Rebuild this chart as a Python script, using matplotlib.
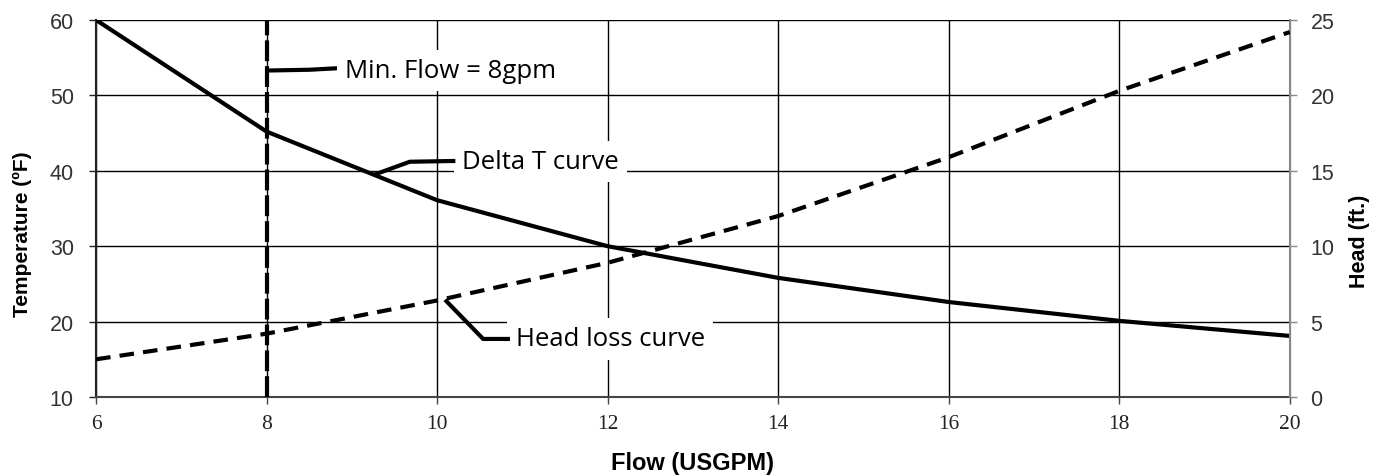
import matplotlib
matplotlib.use("Agg")
import matplotlib.pyplot as plt

flow = [6, 8, 10, 12, 14, 16, 18, 20]
delta_t = [60, 45.2, 36.1, 30.0, 25.8, 22.6, 20.1, 18.1]
head = [2.5, 4.2, 6.4, 8.9, 12.0, 15.9, 20.3, 24.2]
x_ticks = [6, 8, 10, 12, 14, 16, 18, 20]
temp_ticks = [10, 20, 30, 40, 50, 60]
head_ticks = [0, 5, 10, 15, 20, 25]
min_flow = 8

fig = plt.figure(figsize=(13.88, 4.77), dpi=100)
ax = fig.add_axes([0.0692, 0.1656, 0.8600, 0.7904])
ax2 = ax.twinx()

ax.set_xlim(6, 20)
ax.set_ylim(10, 60)
ax2.set_ylim(0, 25)
ax.set_xticks(x_ticks, labels=[str(v) for v in x_ticks],
              fontsize=15.5, fontfamily='Liberation Serif', color='#222222')
ax.set_yticks(temp_ticks, labels=[str(v) for v in temp_ticks],
              fontsize=15.5, fontfamily='Liberation Sans', color='#333333')
ax2.set_yticks(head_ticks, labels=[str(v) for v in head_ticks],
               fontsize=15.5, fontfamily='Liberation Sans', color='#333333')

ax.grid(True, color='black', linewidth=1.0, zorder=0)
ax.set_axisbelow(True)

ax.plot(flow, delta_t, color='black', linewidth=3.0, solid_capstyle='butt', zorder=3)
ax2.plot(flow, head, color='black', linewidth=3.0, linestyle=(0, (3.5, 2.2)), zorder=3)
ax.plot([min_flow, min_flow], [10, 60], color='black', linewidth=3.0,
        linestyle=(0, (5.0, 1.2)), zorder=3)

for a in (ax, ax2):
    a.set_facecolor('none')
ax.spines['top'].set_visible(False)
ax2.spines['top'].set_visible(False)
ax.spines['left'].set_color('#222222')
ax.spines['bottom'].set_color('#444444')
ax2.spines['right'].set_color('#888888')
ax2.spines['left'].set_visible(False)
ax2.spines['bottom'].set_visible(False)
for s in ('left', 'bottom'):
    ax.spines[s].set_linewidth(1.5)
ax2.spines['right'].set_linewidth(1.5)

ax.tick_params(axis='y', direction='out', length=5, width=1, colors='#222222', pad=11)
ax.tick_params(axis='x', direction='out', length=5, width=1, colors='#444444', pad=7)
ax2.tick_params(axis='y', direction='out', length=5, width=1, colors='#888888', pad=10)
for lbl in ax.get_xticklabels():
    lbl.set_color('#222222')
for lbl in ax.get_yticklabels() + ax2.get_yticklabels():
    lbl.set_color('#333333')

ax.set_xlabel('Flow (USGPM)', fontsize=17, fontweight='bold', family='Liberation Sans')
ax.set_ylabel('Temperature (ºF)', fontsize=15, fontweight='bold', family='Liberation Sans')
ax2.set_ylabel('Head (ft.)', fontsize=15.5, fontweight='bold', family='Liberation Sans')
ax.xaxis.set_label_coords(0.5, -0.175)
ax.xaxis.label.set_va('center')
ax.yaxis.set_label_coords(-0.062, 0.435)
ax.yaxis.label.set_va('center')
ax2.yaxis.set_label_coords(1.0586, 0.416)
ax2.yaxis.label.set_va('center')

box = dict(facecolor='white', edgecolor='none', pad=6)
tfont = dict(fontsize=18.5, family='Open Sans', color='black', va='center', ha='left')

# Min flow callout
ax.plot([8.02, 8.5, 8.83], [53.3, 53.4, 53.6], color='black', linewidth=3, zorder=4)
ax.text(8.92, 53.3, 'Min. Flow = 8gpm', bbox=box, zorder=5, **tfont)

# Delta T callout
ax.text(10.29, 41.2, 'Delta T curve', bbox=box, zorder=2.5, **tfont)
ax.plot([9.29, 9.68, 10.19], [39.6, 41.2, 41.3], color='black', linewidth=3, zorder=4)

# Head loss callout
ax.text(10.92, 17.7, 'Head loss curve', bbox=box, zorder=2.5, **tfont)
ax.plot([10.11, 10.54, 10.83], [22.7, 17.7, 17.7], color='black', linewidth=3, zorder=4)

fig.savefig('out.png', dpi=100)
